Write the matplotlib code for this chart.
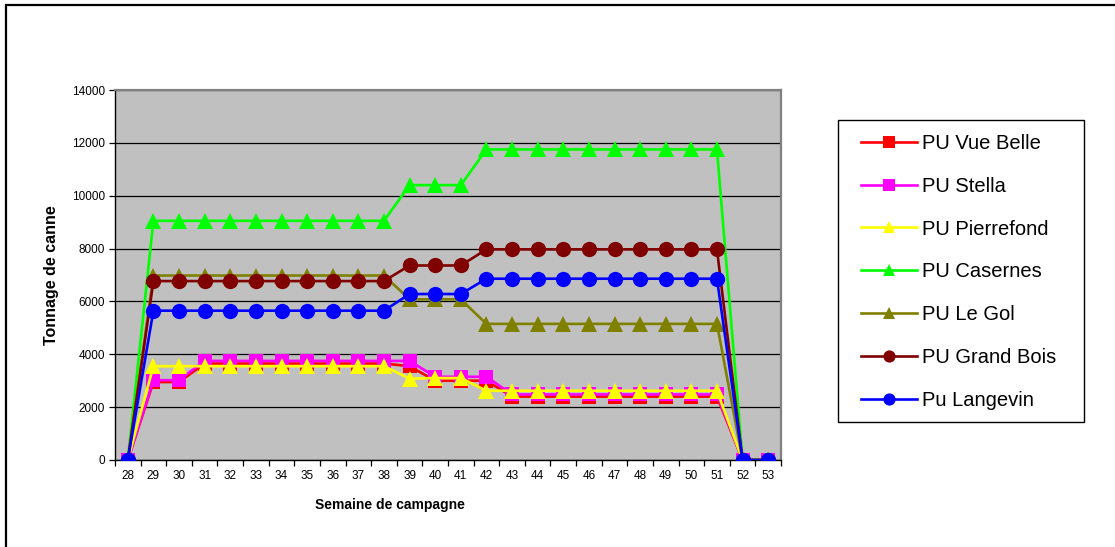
import matplotlib
matplotlib.use("Agg")
import matplotlib.pyplot as plt
from matplotlib.patches import Rectangle
import numpy as np

plt.rcParams['font.family'] = ['Liberation Sans', 'DejaVu Sans']

weeks = [str(w) for w in range(28, 54)]

vue_belle  = [0, 2950, 2950, 3650, 3650, 3650, 3650, 3650, 3650, 3650, 3650, 3550, 3000, 3000, 3000,
              2400, 2400, 2400, 2400, 2400, 2400, 2400, 2400, 2400, 0, 0]
stella     = [0, 3020, 3020, 3750, 3750, 3750, 3750, 3750, 3750, 3750, 3750, 3750, 3150, 3150, 3150,
              2480, 2480, 2480, 2480, 2480, 2480, 2480, 2480, 2480, 0, 0]
pierrefond = [0, 3550, 3550, 3550, 3550, 3550, 3550, 3550, 3550, 3550, 3550, 3080, 3100, 3100, 2620,
              2620, 2620, 2620, 2620, 2620, 2620, 2620, 2620, 2620, 0, 0]
casernes   = [0, 9050, 9050, 9050, 9050, 9050, 9050, 9050, 9050, 9050, 9050, 10400, 10400, 10400, 11750,
              11750, 11750, 11750, 11750, 11750, 11750, 11750, 11750, 11750, 0, 0]
le_gol     = [0, 6980, 6980, 6980, 6980, 6980, 6980, 6980, 6980, 6980, 6980, 6080, 6080, 6080, 5150,
              5150, 5150, 5150, 5150, 5150, 5150, 5150, 5150, 5150, 0, 0]
grand_bois = [0, 6770, 6770, 6770, 6770, 6770, 6770, 6770, 6770, 6770, 6770, 7360, 7360, 7360, 7970,
              7970, 7970, 7970, 7970, 7970, 7970, 7970, 7970, 7970, 0, 0]
langevin   = [0, 5650, 5650, 5650, 5650, 5650, 5650, 5650, 5650, 5650, 5650, 6280, 6280, 6280, 6860,
              6860, 6860, 6860, 6860, 6860, 6860, 6860, 6860, 6860, 0, 0]

series = [
    ("PU Vue Belle", vue_belle, "#FF0000", "s"),
    ("PU Stella", stella, "#FF00FF", "s"),
    ("PU Pierrefond", pierrefond, "#FFFF00", "^"),
    ("PU Casernes", casernes, "#00FF00", "^"),
    ("PU Le Gol", le_gol, "#808000", "^"),
    ("PU Grand Bois", grand_bois, "#800000", "o"),
    ("Pu Langevin", langevin, "#0000FF", "o"),
]

W, H = 1115, 547
fig = plt.figure(figsize=(W / 100, H / 100), dpi=100)
fig.patch.set_facecolor("white")

# outer chart border
border = Rectangle((6 / W, -0.05), 1.2, (H - 5) / H + 0.05, transform=fig.transFigure,
                   fill=False, edgecolor="black", linewidth=1.6, clip_on=False)
fig.patches.append(border)

L, R, T, B = 115, 781, 90, 460
ax = fig.add_axes([L / W, (H - B) / H, (R - L) / W, (B - T) / H])
ax.set_facecolor("#C0C0C0")

x = np.arange(len(weeks))
for name, vals, col, mk in series:
    ms = 11 if mk != "s" else 10.5
    ax.plot(x, vals, color=col, marker=mk, markersize=ms, linewidth=1.9,
            markeredgewidth=0, label=name, zorder=3)

ax.set_xlim(-0.5, len(weeks) - 0.5)
ax.set_ylim(0, 14000)
ax.set_yticks(np.arange(0, 14001, 2000))
ax.yaxis.grid(True, color="black", linewidth=0.9)
ax.set_axisbelow(True)
ax.set_xticks(x)
ax.set_xticklabels(weeks)
ax.set_xticks(np.arange(-0.5, len(weeks)), minor=True)
ax.tick_params(axis="x", which="major", length=0, labelsize=8.5, pad=7)
ax.tick_params(axis="x", which="minor", length=4, width=0.9, color="black")
ax.tick_params(axis="y", length=4, width=0.9, labelsize=8.5, pad=3)

for side in ["top", "right"]:
    ax.spines[side].set_color("#808080")
    ax.spines[side].set_linewidth(1.6)
for side in ["left", "bottom"]:
    ax.spines[side].set_color("black")
    ax.spines[side].set_linewidth(1.0)

fig.text(52 / W, 1 - 275 / H, "Tonnage de canne", rotation=90, ha="center", va="center",
         fontsize=11.5, fontweight="bold")
fig.text(390 / W, 1 - 505 / H, "Semaine de campagne", ha="center", va="center",
         fontsize=10, fontweight="bold")

# legend frame drawn separately
lbox = Rectangle((838 / W, 1 - 422 / H), (1084 - 838) / W, (422 - 120) / H,
                 transform=fig.transFigure, fill=True, facecolor="white",
                 edgecolor="black", linewidth=1.0)
fig.patches.append(lbox)

leg = fig.legend(loc="upper left", bbox_to_anchor=(861 / W, 1 - 134 / H), borderaxespad=0,
                 borderpad=0, fontsize=14.5, frameon=False, handlelength=2.8,
                 labelspacing=1.18, handletextpad=0.25, markerscale=0.8)

fig.savefig("out.png", dpi=100, facecolor="white")
